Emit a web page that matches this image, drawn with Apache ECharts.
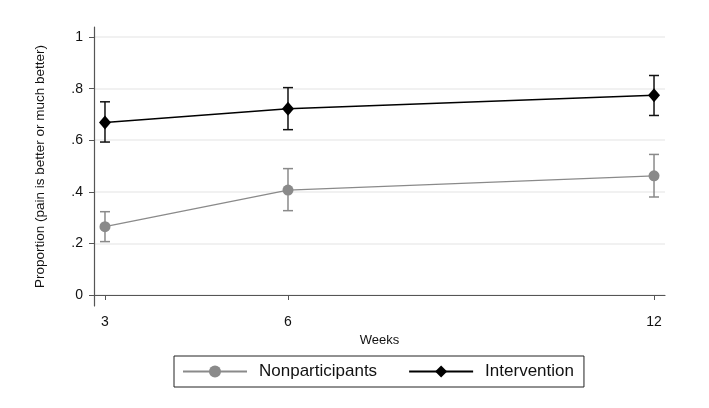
<!DOCTYPE html>
<html>
<head>
<meta charset="utf-8">
<script src="https://cdn.jsdelivr.net/npm/echarts@6/dist/echarts.min.js"></script>
<style>
  html, body { margin: 0; padding: 0; background: #fff; }
  #chart { width: 709px; height: 408px; }
</style>
</head>
<body>
<div id="chart"></div>
<script>
// data
var weeks = [3, 6, 12];
var nonMean = [0.265, 0.407, 0.462];
var nonLow = [0.207, 0.327, 0.380];
var nonHigh = [0.323, 0.490, 0.545];
var intMean = [0.669, 0.722, 0.774];
var intLow = [0.593, 0.641, 0.696];
var intHigh = [0.749, 0.804, 0.851];
var yTicks = [0, 0.2, 0.4, 0.6, 0.8, 1];

var FONT = 'Liberation Sans, Arial, Helvetica, sans-serif';
var GREY = '#8a8a8a';

function pairs(xs, ys) {
  return xs.map(function (x, i) { return [x, ys[i]]; });
}
function bars(xs, lo, hi) {
  return xs.map(function (x, i) { return [x, lo[i], hi[i]]; });
}

function errorBar(color) {
  return function (params, api) {
    var lo = api.coord([api.value(0), api.value(1)]);
    var hi = api.coord([api.value(0), api.value(2)]);
    var w = 5;
    var st = { stroke: color, lineWidth: 1.5 };
    return {
      type: 'group',
      children: [
        { type: 'line', shape: { x1: lo[0], y1: lo[1], x2: hi[0], y2: hi[1] }, style: st },
        { type: 'line', shape: { x1: lo[0] - w, y1: lo[1], x2: lo[0] + w, y2: lo[1] }, style: st },
        { type: 'line', shape: { x1: hi[0] - w, y1: hi[1], x2: hi[0] + w, y2: hi[1] }, style: st }
      ]
    };
  };
}

var chart = echarts.init(document.getElementById('chart'));
var option = {
  animation: false,
  textStyle: { fontFamily: FONT },
  grid: { left: 94, right: 44, top: 27, bottom: 102 },
  legend: {
    data: ['Nonparticipants', 'Intervention'],
    left: 174,
    top: 356,
    padding: [7, 10, 7, 8],
    itemGap: 31,
    itemWidth: 64,
    itemHeight: 15,
    borderColor: '#222',
    borderWidth: 1,
    borderRadius: 0,
    textStyle: { fontSize: 17, color: '#111', padding: [0, 0, 0, 7], fontFamily: FONT }
  },
  xAxis: {
    type: 'value',
    min: 2.82,
    max: 12.18,
    name: 'Weeks',
    nameLocation: 'middle',
    nameGap: 28,
    nameTextStyle: { fontSize: 13, color: '#111' },
    axisLine: { show: true, lineStyle: { color: '#555', width: 1.2 } },
    axisTick: { show: true, customValues: weeks, length: 5, lineStyle: { color: '#555' } },
    axisLabel: { customValues: weeks, fontSize: 14, color: '#111', margin: 9 },
    splitLine: { show: false }
  },
  yAxis: {
    type: 'value',
    min: -0.0426,
    max: 1.039,
    name: 'Proportion (pain is better or much better)',
    nameLocation: 'middle',
    nameGap: 47,
    nameTextStyle: { fontSize: 13.5, color: '#111' },
    axisLine: { show: true, lineStyle: { color: '#555', width: 1.2 } },
    axisTick: { show: true, customValues: yTicks, length: 5, lineStyle: { color: '#555' } },
    axisLabel: {
      customValues: yTicks,
      fontSize: 14,
      color: '#111',
      margin: 11,
      formatter: function (v) {
        if (v === 0) return '0';
        if (v === 1) return '1';
        return v.toFixed(1).replace(/^0/, '');
      }
    },
    splitLine: { show: true, lineStyle: { color: '#ececec', width: 1.5 } }
  },
  series: [
    {
      name: 'nonCI',
      type: 'custom',
      renderItem: errorBar(GREY),
      data: bars(weeks, nonLow, nonHigh),
      z: 2
    },
    {
      name: 'intCI',
      type: 'custom',
      renderItem: errorBar('#111'),
      data: bars(weeks, intLow, intHigh),
      z: 2
    },
    {
      name: 'Nonparticipants',
      type: 'line',
      data: pairs(weeks, nonMean),
      symbol: 'circle',
      symbolSize: 11,
      itemStyle: { color: GREY },
      lineStyle: { color: GREY, width: 1.3 },
      z: 3
    },
    {
      name: 'Intervention',
      type: 'line',
      data: pairs(weeks, intMean),
      symbol: 'diamond',
      symbolSize: [12, 14],
      itemStyle: { color: '#000' },
      lineStyle: { color: '#000', width: 1.5 },
      z: 3
    }
  ]
};
chart.setOption(option);
window.onresize = chart.resize;
</script>
</body>
</html>
